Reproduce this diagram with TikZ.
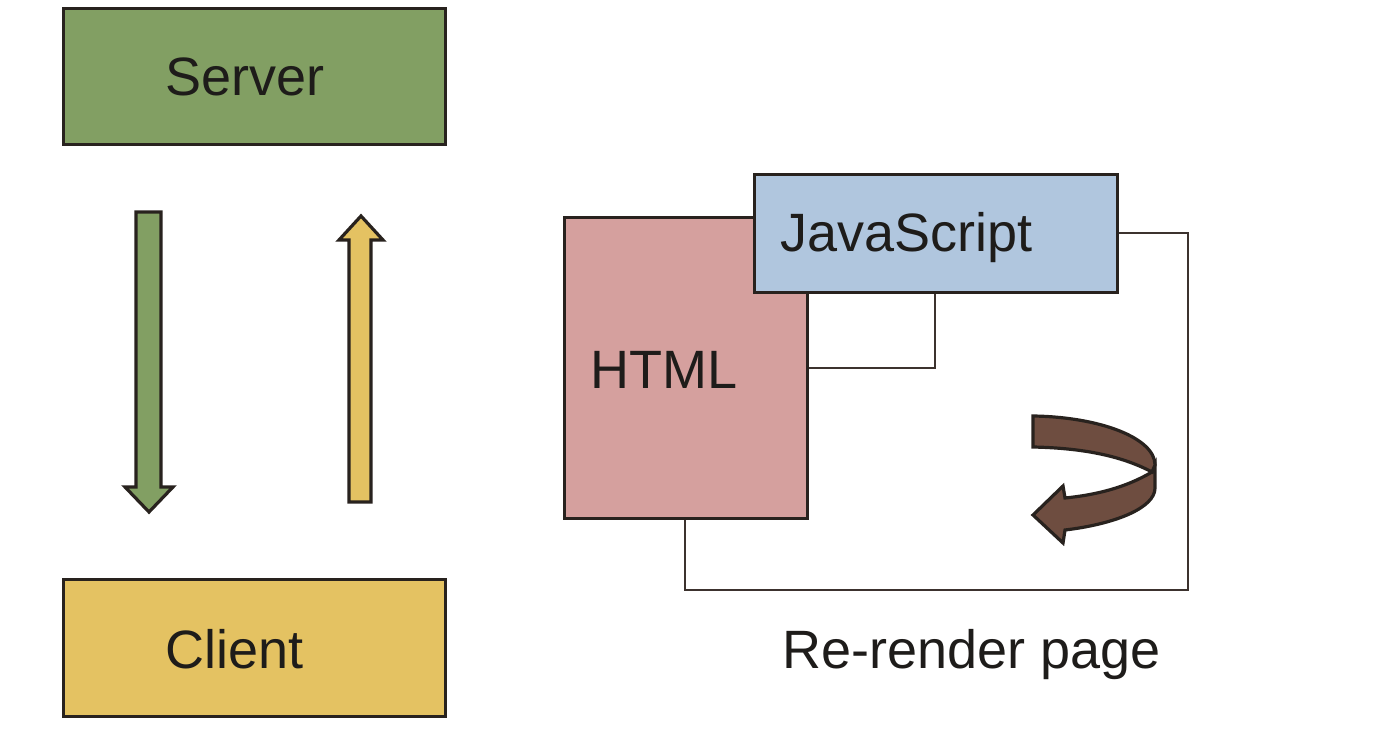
\documentclass[tikz,border=0pt]{standalone}
\usepackage{fontspec}
\setmainfont{Liberation Sans}
\definecolor{servG}{RGB}{130,159,99}
\definecolor{cliY}{RGB}{228,194,98}
\definecolor{htmlP}{RGB}{213,160,158}
\definecolor{jsB}{RGB}{176,198,222}
\definecolor{brownA}{RGB}{110,77,64}
\definecolor{edge}{RGB}{40,34,30}
\definecolor{lineC}{RGB}{60,50,46}
\definecolor{txt}{RGB}{30,28,26}
\begin{document}
\begin{tikzpicture}[x=0.5pt,y=-0.5pt,
  box/.style={draw=edge,line width=1.5pt,inner sep=0pt,anchor=north west},
  lbl/.style={anchor=base west,inner sep=0pt,font=\fontsize{27}{32}\selectfont,text=txt},
  conn/.style={draw=lineC,line width=1pt},
  blk/.style={draw=edge,line width=1.6pt,line join=miter}]
\useasboundingbox (0,0) rectangle (1400,731);
% left side
\node[box,fill=servG,minimum width=191pt,minimum height=68pt] (server) at (62,7) {};
\node[lbl] (serverT) at (165,96) {Server};
\node[box,fill=cliY,minimum width=191pt,minimum height=68.5pt] (client) at (62,578) {};
\node[lbl] (clientT) at (165,668) {Client};
\draw[blk,fill=servG] (136,212) -- (161,212) -- (161,487) -- (173,487) -- (149,512) -- (125,487) -- (136,487) -- cycle;
\draw[blk,fill=cliY] (349,502) -- (371,502) -- (371,240) -- (383,240) -- (361,216) -- (339,240) -- (349,240) -- cycle;
% right side
\node[box,fill=htmlP,minimum width=121.5pt,minimum height=150.5pt] (html) at (563,216) {};
\node[lbl] (htmlT) at (590,388) {HTML};
\node[box,fill=jsB,minimum width=181.5pt,minimum height=59pt] (js) at (753,173) {};
\node[lbl] (jsT) at (780,252) {JavaScript};
\coordinate (a1) at (1188,233);
\coordinate (loopR) at (1188,590);
\coordinate (loopL) at (685,590);
\coordinate (b1) at (935,368);
\draw[conn] (js.east |- a1) -- (a1) -- (loopR) -- (loopL) -- (loopL |- html.south);
\draw[conn] (js.south -| b1) -- (b1) -- (html.east |- b1);
% curved arrow
\draw[blk,fill=brownA] (1152,472) .. controls (1125,488) and (1095,495) .. (1065,498) -- (1063,486) -- (1033,515) -- (1063,543) -- (1065,530) .. controls (1115,524) and (1155,508) .. (1155,488) -- (1155,465) -- cycle;
\draw[blk,fill=brownA] (1033,416) .. controls (1100,417) and (1155,438) .. (1155,465) -- (1152,472) .. controls (1120,455) and (1080,448) .. (1033,447) -- cycle;
\node[anchor=base west,inner sep=0pt,font=\fontsize{27}{32}\selectfont,text=txt] (rr) at (782,668) {Re-render page};
\end{tikzpicture}
\end{document}
